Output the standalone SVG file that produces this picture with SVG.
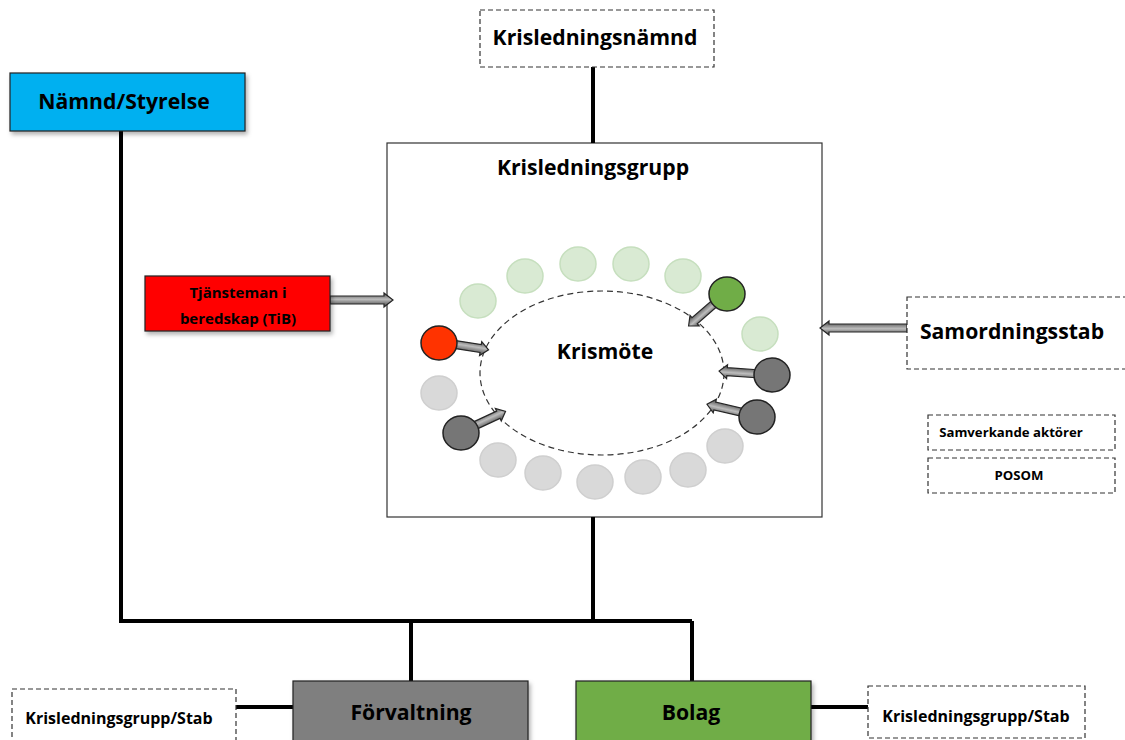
<svg xmlns="http://www.w3.org/2000/svg" width="1125" height="740" viewBox="0 0 1125 740">
<style>
text{font-family:"Open Sans","Liberation Sans",sans-serif;font-weight:bold;fill:#000;text-anchor:middle}
.t20{font-size:21.2px}
.t15{font-size:15px}
.t16{font-size:16px}
.t13{font-size:13.2px}
.dash{fill:#fff;stroke:#333;stroke-width:1.2;stroke-dasharray:5 3}
.solid{stroke:#222;stroke-width:1.2}
.line{stroke:#000;stroke-width:4;fill:none}
.lg{fill:#D9EAD3;stroke:#C6DFBE;stroke-width:1.5}
.gr{fill:#D9D9D9;stroke:#CFCFCF;stroke-width:1.5}
.dk{fill:#767676;stroke:#222;stroke-width:1.5}
.arr{fill:url(#ag);stroke:#262626;stroke-width:1.2}
</style>
<defs>
<linearGradient id="ag" x1="0" y1="0" x2="0" y2="1">
<stop offset="0" stop-color="#4a4a4a"/>
<stop offset="0.45" stop-color="#bdbdbd"/>
<stop offset="1" stop-color="#3c3c3c"/>
</linearGradient>
<filter id="sh" x="-10%" y="-10%" width="130%" height="140%">
<feDropShadow dx="2" dy="3" stdDeviation="2" flood-color="#000" flood-opacity="0.3"/>
</filter>
</defs>

<g id="krisledningsgrupp">
<rect x="387" y="143" width="435" height="374" fill="#fff" stroke="#333" stroke-width="1.2"/>
<text class="t20" x="593" y="175">Krisledningsgrupp</text>
</g>

<g id="krismote">
<ellipse cx="602" cy="373" rx="122" ry="82" fill="none" stroke="#333" stroke-width="1.2" stroke-dasharray="6 4"/>
<text class="t20" x="605" y="359">Krismöte</text>
</g>

<g id="connectors">
<path class="line" d="M593 67V143"/>
<path class="line" d="M121 131V621H692"/>
<path class="line" d="M593 517V621"/>
<path class="line" d="M411 621V681"/>
<path class="line" d="M692 621V681"/>
<path class="line" d="M236 707H293"/>
<path class="line" d="M811 707H868"/>
<polygon class="arr" transform="translate(330,300)" points="0,-4 54,-4 54,-7 63,0 54,7 54,4 0,4"/>
<polygon class="arr" transform="translate(907,328) rotate(180)" points="0,-4 78,-4 78,-7 87,0 78,7 78,4 0,4"/>
<polygon class="arr" transform="translate(452,344) rotate(9)" points="0,-4 29,-4 29,-7 37,0 29,7 29,4 0,4"/>
<polygon class="arr" transform="translate(472,427) rotate(-25)" points="0,-4 29,-4 29,-7 37,0 29,7 29,4 0,4"/>
<polygon class="arr" transform="translate(715,303) rotate(139)" points="0,-4 27,-4 27,-7 35,0 27,7 27,4 0,4"/>
<polygon class="arr" transform="translate(760,374) rotate(184)" points="0,-4 33,-4 33,-7 41,0 33,7 33,4 0,4"/>
<polygon class="arr" transform="translate(745,413) rotate(193)" points="0,-4 31,-4 31,-7 39,0 31,7 31,4 0,4"/>
</g>

<g id="members">
<ellipse class="lg" cx="478" cy="301" rx="18" ry="17"/>
<ellipse class="lg" cx="525" cy="276" rx="18" ry="17"/>
<ellipse class="lg" cx="578" cy="264" rx="18" ry="17"/>
<ellipse class="lg" cx="631" cy="264" rx="18" ry="17"/>
<ellipse class="lg" cx="683" cy="276" rx="18" ry="17"/>
<ellipse class="lg" cx="760" cy="334" rx="18" ry="17"/>
<ellipse class="gr" cx="439" cy="393" rx="18" ry="17"/>
<ellipse class="gr" cx="498" cy="460" rx="18" ry="17"/>
<ellipse class="gr" cx="543" cy="473" rx="18" ry="17"/>
<ellipse class="gr" cx="595" cy="482" rx="18" ry="17"/>
<ellipse class="gr" cx="643" cy="477" rx="18" ry="17"/>
<ellipse class="gr" cx="688" cy="470" rx="18" ry="17"/>
<ellipse class="gr" cx="725" cy="446" rx="18" ry="17"/>
<ellipse cx="727" cy="294" rx="18" ry="17" fill="#70AD47" stroke="#222" stroke-width="1.5"/>
<ellipse cx="439" cy="343" rx="18" ry="17" fill="#FF3300" stroke="#222" stroke-width="1.5"/>
<ellipse class="dk" cx="461" cy="433" rx="18" ry="17"/>
<ellipse class="dk" cx="772" cy="375" rx="18" ry="17"/>
<ellipse class="dk" cx="757" cy="417" rx="18" ry="17"/>
</g>

<g id="krisledningsnamnd">
<rect class="dash" x="480" y="10" width="234" height="57"/>
<text class="t20" x="595" y="45">Krisledningsnämnd</text>
</g>

<g id="namnd-styrelse">
<rect class="solid" x="10" y="73" width="235" height="58" fill="#00B0F0" filter="url(#sh)"/>
<text class="t20" x="124" y="109">Nämnd/Styrelse</text>
</g>

<g id="tib">
<rect class="solid" x="145" y="276" width="185" height="55" fill="#FF0000" filter="url(#sh)"/>
<text class="t15" x="238" y="298">Tjänsteman i</text>
<text class="t15" x="238" y="324">beredskap (TiB)</text>
</g>

<g id="samordningsstab">
<rect class="dash" x="907" y="297" width="230" height="72"/>
<text class="t20" x="1012" y="339">Samordningsstab</text>
</g>

<g id="samverkande">
<rect class="dash" x="928" y="415" width="187" height="35"/>
<text class="t13" x="1011" y="437">Samverkande aktörer</text>
</g>

<g id="posom">
<rect class="dash" x="928" y="458" width="187" height="35"/>
<text class="t13" x="1019" y="480">POSOM</text>
</g>

<g id="forvaltning">
<rect class="solid" x="293" y="681" width="235" height="65" fill="#7F7F7F" filter="url(#sh)"/>
<text class="t20" x="411" y="720">Förvaltning</text>
</g>

<g id="bolag">
<rect class="solid" x="576" y="681" width="235" height="65" fill="#70AD47" filter="url(#sh)"/>
<text class="t20" x="691" y="720">Bolag</text>
</g>

<g id="stab-left">
<rect class="dash" x="12" y="689" width="224" height="60"/>
<text class="t16" x="119" y="724">Krisledningsgrupp/Stab</text>
</g>

<g id="stab-right">
<rect class="dash" x="868" y="686" width="217" height="52"/>
<text class="t16" x="976" y="722">Krisledningsgrupp/Stab</text>
</g>
</svg>
